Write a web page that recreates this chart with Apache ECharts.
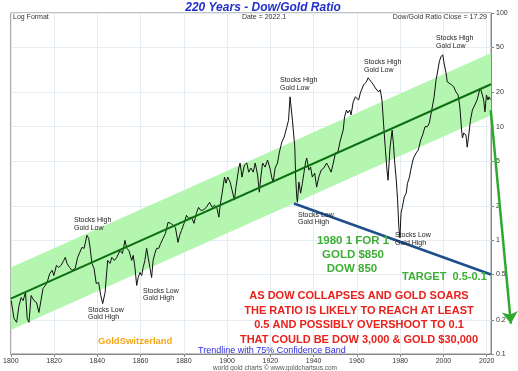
<!DOCTYPE html>
<html><head><meta charset="utf-8">
<script src="https://cdn.jsdelivr.net/npm/echarts@6/dist/echarts.min.js"></script>
<style>html,body{margin:0;padding:0;background:#fff}#c{width:518px;height:371px}</style>
</head><body><div id="c"></div>
<script>
// ---- data ----
const years = [1800.2,1801.5,1802.7,1803.8,1804.8,1805.7,1806.8,1807.6,1808.4,1809.4,1810.7,1811.9,1813.0,1813.7,1814.9,1816.0,1816.8,1818.0,1819.1,1819.9,1821.1,1822.2,1823.2,1824.5,1825.2,1826.0,1827.2,1828.3,1829.8,1830.9,1831.8,1832.9,1833.9,1835.2,1836.0,1836.7,1837.5,1838.5,1839.5,1840.6,1841.6,1842.5,1843.6,1844.4,1844.8,1845.9,1846.7,1847.9,1849.0,1850.5,1851.6,1852.8,1853.6,1854.6,1855.9,1856.6,1857.4,1858.2,1858.9,1859.7,1860.5,1861.2,1862.0,1862.8,1863.5,1864.3,1865.1,1865.8,1866.6,1867.4,1868.4,1869.3,1870.4,1871.5,1872.7,1873.9,1875.0,1876.1,1877.3,1878.1,1878.9,1880.1,1881.2,1882.2,1883.5,1884.7,1885.8,1886.8,1887.7,1888.8,1890.4,1891.9,1893.1,1894.2,1895.3,1896.2,1896.8,1897.7,1898.8,1899.5,1900.3,1901.4,1902.3,1903.4,1904.1,1905.4,1906.0,1906.9,1908.0,1909.1,1910.0,1911.0,1912.1,1913.0,1914.1,1914.9,1915.6,1916.4,1917.6,1918.7,1919.8,1920.7,1921.3,1922.2,1923.3,1924.1,1925.3,1926.4,1927.5,1928.4,1929.1,1930.2,1931.3,1931.7,1932.2,1932.5,1933.2,1934.0,1934.8,1935.5,1936.3,1936.8,1937.8,1938.6,1939.4,1940.5,1941.4,1942.4,1943.5,1944.7,1946.0,1947.0,1948.1,1949.1,1950.1,1951.2,1952.4,1953.7,1954.3,1955.2,1955.8,1956.7,1957.3,1958.3,1959.3,1960.1,1960.8,1961.6,1962.4,1963.1,1964.4,1965.2,1965.9,1967.0,1967.7,1968.5,1969.3,1970.0,1970.8,1971.6,1972.3,1973.1,1973.9,1974.4,1975.3,1976.3,1976.9,1977.5,1978.2,1978.8,1979.4,1979.9,1980.4,1981.0,1981.9,1982.8,1983.4,1984.3,1984.9,1985.9,1986.4,1987.4,1988.4,1989.5,1990.4,1991.5,1992.6,1993.5,1994.6,1995.7,1996.6,1997.2,1998.1,1998.8,1999.7,2000.2,2001.2,2001.8,2002.7,2003.8,2004.8,2005.8,2006.8,2007.6,2008.4,2008.8,2009.4,2010.4,2011.0,2011.6,2012.5,2013.4,2014.5,2015.6,2016.5,2017.1,2018.0,2018.6,2019.2,2019.9,2020.6,2021.1,2021.7];
const ratio = [0.295,0.205,0.19,0.267,0.314,0.295,0.348,0.205,0.19,0.327,0.295,0.284,0.232,0.241,0.377,0.401,0.426,0.51,0.544,0.49,0.602,0.577,0.602,0.666,0.708,0.627,0.577,0.544,0.566,0.708,0.708,0.867,0.85,1.107,1.04,0.85,0.627,0.566,0.417,0.426,0.327,0.278,0.348,0.544,0.666,0.627,0.708,0.666,0.708,0.816,0.767,1.0,0.85,0.816,0.666,0.737,0.577,0.401,0.471,0.522,0.49,0.577,0.666,0.85,0.85,0.577,0.471,0.666,0.767,0.85,0.85,0.94,1.04,1.15,1.44,1.41,1.36,1.30,0.96,1.11,1.22,1.41,1.66,1.56,1.60,1.41,1.73,1.95,1.84,1.84,1.95,2.16,1.95,2.04,1.92,1.60,2.04,2.60,3.6,3.18,3.6,3.25,2.76,2.26,2.94,4.32,4.79,3.6,4.59,4.79,3.98,4.32,3.98,4.79,3.75,2.65,3.6,4.79,4.41,5.09,4.32,3.53,3.25,4.32,4.79,5.87,7.33,8.1,9.76,11.4,18.3,11.4,6.6,3.6,2.4,2.16,3.25,2.60,3.18,3.9,4.88,5.3,4.15,4.41,3.6,3.9,2.94,3.6,4.15,4.32,4.79,4.41,3.98,4.79,5.87,5.98,7.64,9.36,12.2,14.0,13.2,14.0,12.7,16.5,18.3,19.0,17.2,19.8,20.2,23.3,24.8,26.9,25.8,24.3,23.3,21.9,22.4,20.2,21.1,17.2,10.8,6.6,4.15,3.38,6.5,9.3,7.0,4.8,3.4,2.3,1.3,1.05,1.73,1.95,2.4,2.6,3.18,3.6,4.15,5.09,5.4,5.87,6.23,7.64,8.45,10.0,10.0,10.8,14.0,18.3,25.8,29.7,37.2,41.1,42.9,37.2,29.7,24.8,24.8,23.3,22.4,20.2,19.0,14.9,9.36,7.95,8.8,8.45,6.6,8.1,11.4,14.0,15.5,17.2,20.2,21.9,19.0,17.2,13.5,19.0,17.2,18.3,17.29];
const trendYears = [1800, 2022];
const trendValues = [0.307, 23.6];
const bandUpper = [0.577, 44.4];
const bandLower = [0.163, 12.6];
const supportYears = [1930.9, 2022];
const supportValues = [2.11, 0.5];
const targetYears = [2021.9, 2031.2];
const targetValues = [14.0, 0.185];
const xTicks = [1800,1820,1840,1860,1880,1900,1920,1940,1960,1980,2000,2020];
const yTicks = [0.1,0.2,0.5,1,2,5,10,20,50,100];

const FF = '"Liberation Sans", Arial, sans-serif';
const chart = echarts.init(document.getElementById('c'), null, {renderer:'canvas'});
const zip = (a,b) => a.map((v,i)=>[v,b[i]]);

function txt(x, y, text, font, fill, align, vAlign, lh) {
  return {type:'text', x:x, y:y, z:100, silent:true,
    style:{text:text, font:font, fill:fill, align:align||'left', verticalAlign:vAlign||'middle', lineHeight:lh||undefined}};
}
const small = '7px ' + FF;
const graphics = [
  txt(263, 8, '220 Years - Dow/Gold Ratio', 'italic bold 12px ' + FF, '#2130c8', 'center'),
  txt(13, 17, 'Log Format', small, '#333'),
  txt(264, 17, 'Date = 2022.1', small, '#333', 'center'),
  txt(487, 17, 'Dow/Gold Ratio Close = 17.29', small, '#333', 'right'),
  txt(74, 216.5, 'Stocks High\nGold Low', small, '#222', 'left', 'top', 7.5),
  txt(88, 306, 'Stocks Low\nGold High', small, '#222', 'left', 'top', 7.5),
  txt(143, 287, 'Stocks Low\nGold High', small, '#222', 'left', 'top', 7.5),
  txt(280, 76.5, 'Stocks High\nGold Low', small, '#222', 'left', 'top', 7.5),
  txt(364, 58.5, 'Stocks High\nGold Low', small, '#222', 'left', 'top', 7.5),
  txt(298, 211, 'Stocks Low\nGold High', small, '#222', 'left', 'top', 7.5),
  txt(436, 34.5, 'Stocks High\nGold Low', small, '#222', 'left', 'top', 7.5),
  txt(395, 231.5, 'Stocks Low\nGold High', small, '#222', 'left', 'top', 7.5),
  txt(353, 241, '1980 1 FOR 1', 'bold 11.5px ' + FF, '#3cae33', 'center'),
  txt(353, 255, 'GOLD $850', 'bold 11.5px ' + FF, '#3cae33', 'center'),
  txt(352, 269, 'DOW 850', 'bold 11.5px ' + FF, '#3cae33', 'center'),
  txt(402, 277, 'TARGET  0.5-0.1', 'bold 11px ' + FF, '#3cae33', 'left'),
  txt(359, 295.5, 'AS DOW COLLAPSES AND GOLD SOARS', 'bold 11px ' + FF, '#e8211d', 'center'),
  txt(359, 310.5, 'THE RATIO IS LIKELY TO REACH AT LEAST', 'bold 11px ' + FF, '#e8211d', 'center'),
  txt(359, 325, '0.5 AND POSSIBLY OVERSHOOT TO 0.1', 'bold 11px ' + FF, '#e8211d', 'center'),
  txt(359, 339.5, 'THAT COULD BE DOW 3,000 & GOLD $30,000', 'bold 11px ' + FF, '#e8211d', 'center'),
  txt(98, 341, 'GoldSwitzerland', 'bold 9.5px ' + FF, '#f3a619', 'left'),
  txt(198, 350.5, 'Trendline with 75% Confidence Band', '9px ' + FF, '#2b2be0', 'left'),
  txt(275, 368, 'world gold charts \u00a9 www.goldchartsus.com', '6.5px ' + FF, '#555', 'center')
];

const option = {
  animation:false,
  backgroundColor:'#fff',
  grid:{left:9, right:27, top:13, bottom:17, show:true, borderColor:'#888', borderWidth:1, backgroundColor:'transparent'},
  xAxis:{type:'value', min:1800, max:2022,
    axisLine:{show:true, lineStyle:{color:'#888', width:1}},
    axisTick:{show:true, length:3, customValues:xTicks, lineStyle:{color:'#888'}},
    axisLabel:{customValues:xTicks, fontSize:7, color:'#333', margin:4, fontFamily:FF,
      formatter:v => String(Math.round(v))},
    splitLine:{show:true, lineStyle:{color:'#e4ecf4', width:1}}},
  yAxis:{type:'log', logBase:10, min:0.1, max:100, position:'right',
    axisLine:{show:true, lineStyle:{color:'#888', width:1}},
    axisTick:{show:true, length:3, customValues:yTicks, lineStyle:{color:'#888'}},
    axisLabel:{customValues:yTicks, fontSize:7, color:'#333', margin:5, fontFamily:FF,
      formatter:v => v < 1 ? String(+(+v).toFixed(1)) : String(Math.round(v))},
    splitLine:{show:true, lineStyle:{color:'#e4ecf4', width:1}},
    minorTick:{show:false}},
  series:[
    {type:'custom', z:1, silent:true, data:[[1900, 1]],
      renderItem:(params, api) => {
        const pts = [];
        trendYears.forEach((y,i)=>pts.push(api.coord([y, bandUpper[i]])));
        for (let i = trendYears.length-1; i >= 0; i--) pts.push(api.coord([trendYears[i], bandLower[i]]));
        return {type:'polygon', shape:{points:pts}, style:{fill:'#b4f6b0'}};
      }},
    {type:'line', z:3, data:zip(years, ratio), showSymbol:false, symbol:'none',
      lineStyle:{color:'#111', width:1}, silent:true},
    {type:'line', z:4, data:zip(trendYears, trendValues), symbol:'none',
      lineStyle:{color:'#0d6e12', width:2}, silent:true},
    {type:'line', z:4, data:zip(supportYears, supportValues), symbol:'none',
      lineStyle:{color:'#1f4e8c', width:2.5}, silent:true},
    {type:'lines', coordinateSystem:'cartesian2d', z:5, clip:false, silent:true,
      symbol:['none','arrow'], symbolSize:[10, 12],
      lineStyle:{color:'#2ea82e', width:2.5, opacity:1},
      data:[{coords: zip(targetYears, targetValues)}]}
  ],
  graphic: graphics
};
chart.setOption(option);
</script>
</body></html>
